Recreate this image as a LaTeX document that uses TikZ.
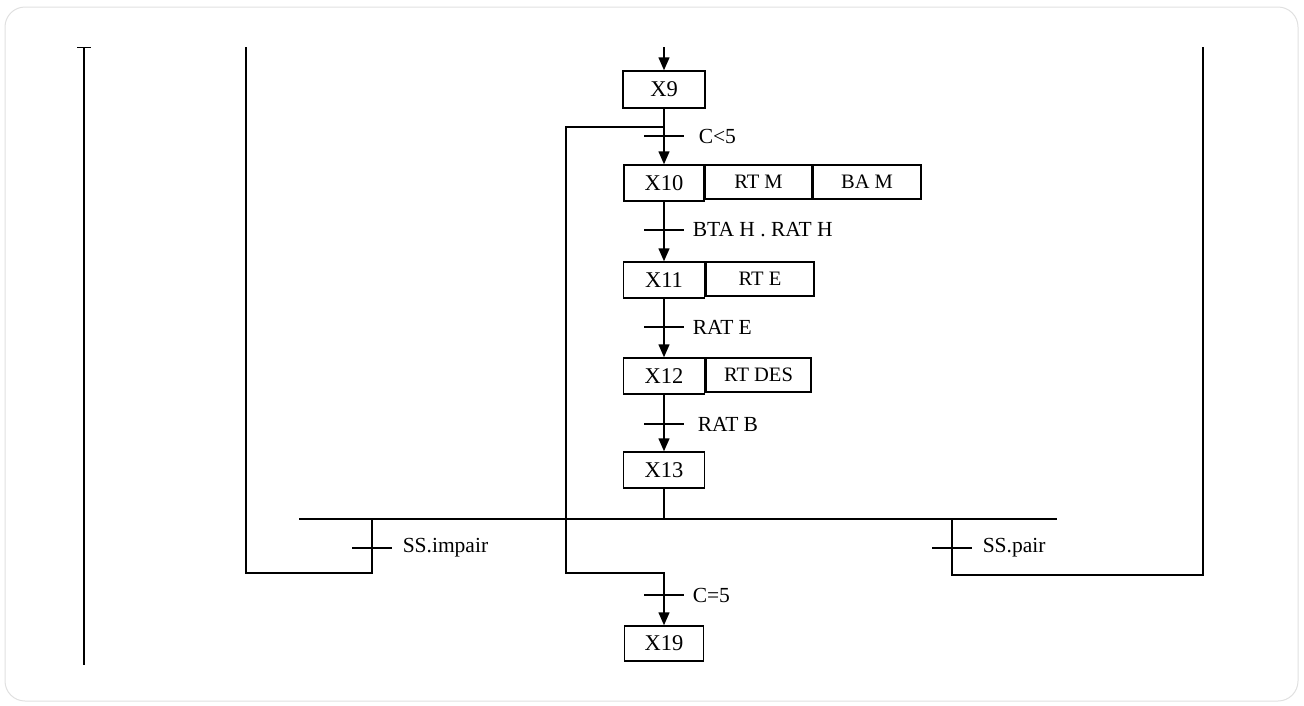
\documentclass[tikz,border=0pt]{standalone}
\usepackage{fontspec}
\setmainfont{Liberation Serif}
\usetikzlibrary{arrows.meta,positioning,calc}

\begin{document}
\begin{tikzpicture}[
    x=1pt, y=-1pt,
    line width=1.5pt,
    etape/.style={draw, minimum width=80pt, minimum height=36pt, inner sep=0pt, font=\fontsize{22.5}{26}\selectfont},
    action/.style={draw, minimum height=34pt, inner sep=0pt, anchor=north west, font=\fontsize{20.5}{24}\selectfont},
    cond/.style={inner sep=0pt, font=\fontsize{21.5}{25}\selectfont},
    arrow/.style={-{Triangle[length=13pt,width=11pt]}},
    node distance=28pt
]
\useasboundingbox (0,0) rectangle (1304,705);
\draw[black!12, line width=1pt, rounded corners=20pt] (5,7) rectangle (1298,701);

% steps and actions
\node[etape, minimum width=82pt, minimum height=37pt] (x9) at (664,89.5) {X9};
\node[etape] (x10) at (664,183) {X10};
\node[action, minimum width=106pt] (a10) at (x10.north east) {RT M};
\node[action, minimum width=108pt] (b10) at (a10.north east) {BA M};
\node[etape, minimum width=81pt] (x11) at (664,280) {X11};
\node[action, minimum width=108pt] (a11) at (x11.north east) {RT E};
\node[etape, minimum width=81pt] (x12) at (664,376) {X12};
\node[action, minimum width=105pt] (a12) at (x12.north east) {RT DES};
\node[etape, minimum width=81pt] (x13) at (664,470) {X13};
\node[etape, minimum width=79pt, minimum height=35pt] (x19) at (664,643.5) {X19};

% transitions
\coordinate (in9) at (664,47);
\coordinate (t10) at (664,136);
\coordinate (t11) at (664,230);
\coordinate (t12) at (664,327);
\coordinate (t13) at (664,424);
\coordinate (t19) at (664,595);
\coordinate (tpi) at (372,548);
\coordinate (tpa) at (952,548);

% loop and selection
\coordinate (lj) at (664,127);
\coordinate (lc1) at (566,127);
\coordinate (lc2) at (566,573);
\coordinate (lc3) at (664,573);
\coordinate (bl) at (299,519);
\coordinate (br) at (1057,519);
\coordinate (ri1) at (372,573);
\coordinate (ri2) at (246,573);
\coordinate (ri3) at (246,47);
\coordinate (rp1) at (952,575);
\coordinate (rp2) at (1203,575);
\coordinate (rp3) at (1203,47);
\coordinate (lt) at (84,47);
\coordinate (lb) at (84,665);

\draw[arrow] (in9) -- (x9);
\foreach \i/\j in {x9/x10, x10/x11, x11/x12, x12/x13}
  \draw[arrow] (\i) -- (\j);
\draw (x13) -- (x13 |- bl);
\draw (bl) -- (br);
\draw[arrow] (lj) -- (lc1) -- (lc2) -- (lc3) -- (x19);
\draw (tpi |- bl) -- (ri1) -- (ri2) -- (ri3);
\draw (tpa |- bl) -- (rp1) -- (rp2) -- (rp3);
\draw (lt) -- (lb);
\draw[line width=1pt] ([xshift=-7pt]lt) -- ([xshift=7pt]lt);

\foreach \t in {t10, t11, t12, t13, t19, tpi, tpa}
  \draw ([xshift=-20pt]\t) -- ([xshift=20pt]\t);

\node[cond, right=34pt of t10] (c10) {C<5};
\node[cond, right=of t11] (c11) {BTA H . RAT H};
\node[cond, right=of t12] (c12) {RAT E};
\node[cond, right=33pt of t13] (c13) {RAT B};
\node[cond, right=of t19] (c19) {C=5};
\node[cond, right=30pt of tpi] (cpi) {SS.impair};
\node[cond, right=30pt of tpa] (cpa) {SS.pair};
\end{tikzpicture}
\end{document}
